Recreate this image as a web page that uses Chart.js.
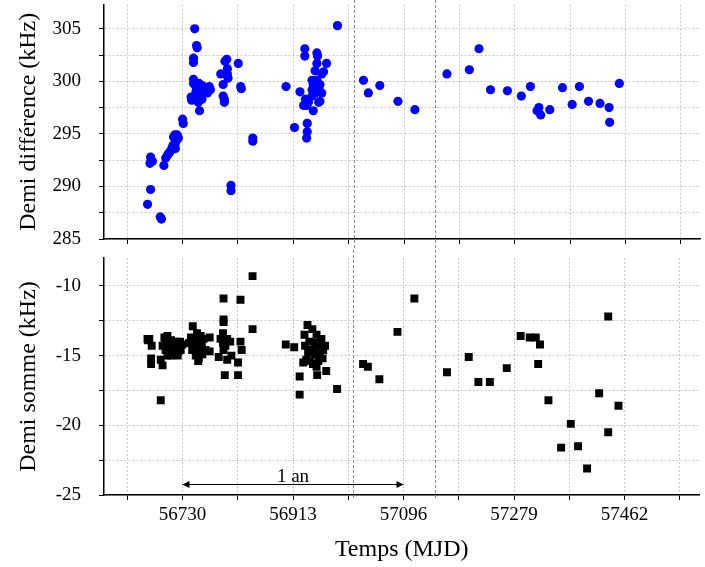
<!DOCTYPE html>
<html>
<head>
<meta charset="utf-8">
<script src="https://cdn.jsdelivr.net/npm/chart.js@4"></script>
<style>
  body { margin: 0; background: #fff; }
  #wrap { position: relative; width: 705px; height: 567px; }
  #wrap canvas { position: absolute; left: 0; }
</style>
</head>
<body>
<div id="wrap">
  <canvas id="top-chart" width="705" height="250" style="top:0;width:705px;height:250px"></canvas>
  <canvas id="bottom-chart" width="705" height="317" style="top:250px;width:705px;height:317px"></canvas>
</div>
<script>
// time axis (MJD)
const xMin = 56600
const xMax = 57586
const xLabelTicks = [56730, 56913, 57096, 57279, 57462]
const xMinorTicks = [56638.5, 56821.5, 57004.5, 57187.5, 57370.5, 57553.5]
const markerDays = [57013, 57148]
const yearArrow = [56730, 57096]
const yearArrowLevel = -24.2

// half difference (kHz), blue circles
const diffDays = [
  56672, 56677, 56693, 56695, 56677, 56678, 56676, 56680, 56699, 56702,
  56705, 56707, 56709, 56712, 56714, 56718, 56720, 56717, 56721, 56723,
  56718, 56715, 56730, 56731, 56750, 56753, 56754, 56748, 56748, 56748,
  56748, 56744, 56745, 56758, 56752, 56757, 56762, 56768, 56757, 56760,
  56754, 56762, 56766, 56774, 56776, 56771, 56752, 56757, 56762, 56750,
  56756, 56793, 56800, 56803, 56804, 56805, 56804, 56797, 56797, 56799,
  56799, 56822, 56826, 56827, 56846, 56846, 56810, 56810, 56901, 56915,
  56924, 56932, 56932, 56936, 56936, 56935, 56952, 56953, 56968, 56986,
  56933, 56930, 56938, 56944, 56949, 56955, 56960, 56957, 56946, 56952,
  56949, 56952, 56960, 56963, 56944, 56946, 56955, 56935, 56944, 56957,
  57029, 57037, 57056, 57086, 57114, 57167, 57204, 57220, 57239, 57267,
  57290, 57305, 57319, 57316, 57322, 57337, 57358, 57374, 57386, 57401,
  57420, 57435, 57436, 57452
]
const diffValues = [
  288.3, 289.7, 287.1, 286.9, 292.8, 292.5, 292.2, 292.4, 292.0, 292.7,
  293.0, 293.1, 293.3, 293.6, 293.9, 294.1, 294.4, 294.9, 294.9, 294.6,
  293.6, 294.7, 296.4, 296.0, 305.0, 303.4, 303.2, 302.2, 301.8, 300.2,
  299.8, 298.5, 298.2, 297.2, 299.5, 299.8, 299.6, 299.4, 298.9, 298.5,
  298.6, 298.3, 299.1, 299.5, 299.2, 298.9, 299.0, 299.2, 298.8, 298.3,
  298.0, 300.7, 301.9, 302.1, 301.2, 300.3, 300.7, 299.7, 298.6, 298.3,
  298.0, 301.7, 299.5, 299.3, 294.6, 294.3, 290.1, 289.6, 299.5, 295.6,
  299.0, 303.1, 302.4, 296.0, 295.2, 294.6, 302.7, 302.4, 301.7, 305.3,
  298.3, 297.7, 298.0, 298.6, 298.9, 299.4, 298.9, 298.1, 297.2, 300.1,
  301.0, 301.7, 300.7, 300.9, 300.1, 299.7, 298.0, 297.7, 299.2, 299.7,
  300.1, 298.9, 299.6, 298.1, 297.3, 300.7, 301.1, 303.1, 299.2, 299.1,
  298.6, 299.5, 297.5, 297.2, 296.8, 297.3, 299.4, 297.8, 299.5, 298.1,
  297.9, 297.5, 296.1, 299.8
]

// half sum (kHz), black squares
const sumDays = [
  56672, 56675, 56679, 56678, 56678, 56673, 56694, 56694, 56697,
  56700, 56705, 56711, 56708, 56702, 56713, 56719, 56724, 56716, 56711,
  56722, 56705, 56727, 56730, 56697, 56702, 56719, 56723, 56709, 56715, 56726,
  56747, 56754, 56744, 56749, 56757, 56752, 56760, 56746, 56754, 56763,
  56757, 56756, 56768, 56775, 56775, 56765, 56760, 56741, 56752, 56749, 56762,
  56798, 56826, 56846, 56846, 56798, 56798, 56797, 56793, 56797, 56801,
  56809, 56804, 56790, 56804, 56811, 56798, 56826, 56828, 56822, 56800, 56822,
  56901, 56915, 56924, 56924, 56937, 56945, 56952, 56932, 56933, 56935,
  56930, 56938, 56944, 56949, 56955, 56957, 56963, 56966, 56960, 56946,
  56952, 56953, 56968, 56941, 56955, 56940, 56950, 56958, 56962, 56986,
  57029, 57037, 57056, 57086, 57114, 57168, 57204, 57220, 57239, 57267,
  57290, 57305, 57315, 57322, 57319, 57336, 57357, 57373, 57385, 57400,
  57420, 57435, 57435, 57452
]
const sumValues = [
  -13.8, -13.8, -14.3, -15.2, -15.6, -13.9, -18.2, -15.3, -15.7,
  -13.7, -13.6, -13.9, -14.3, -14.6, -14.2, -14.4, -14.3, -14.8, -15.0,
  -15.0, -15.0, -14.6, -14.2, -14.3, -14.0, -14.0, -14.7, -14.6, -14.3, -14.0,
  -12.9, -13.4, -13.7, -13.8, -14.1, -14.3, -14.4, -14.6, -14.8, -14.9,
  -15.2, -15.4, -14.6, -13.7, -14.7, -13.8, -13.6, -14.1, -15.0, -14.5, -14.1,
  -10.9, -11.0, -9.3, -13.1, -12.4, -12.6, -13.4, -13.8, -14.1, -14.3,
  -14.0, -13.8, -15.1, -15.3, -15.0, -14.6, -14.0, -14.6, -15.5, -16.4, -16.4,
  -14.2, -14.4, -16.5, -17.8, -12.8, -13.1, -13.5, -13.5, -14.3, -15.3,
  -15.5, -14.8, -14.6, -14.1, -14.4, -15.0, -14.6, -14.3, -13.8, -15.6,
  -15.8, -16.4, -16.1, -15.4, -15.4, -14.0, -14.9, -14.2, -15.2, -17.4,
  -15.6, -15.8, -16.7, -13.3, -10.9, -16.2, -15.1, -16.9, -16.9, -15.9,
  -13.6, -13.7, -13.7, -14.2, -15.6, -18.2, -21.6, -19.9, -21.5, -23.1,
  -17.7, -12.2, -20.5, -18.6
]

const serif = "'Liberation Serif', 'Times New Roman', serif"
const gridColor = '#c6c6c6'

Chart.defaults.font.family = serif
Chart.defaults.color = '#000000'

function toPoints(days, values) {
  return days.map((d, i) => ({ x: d, y: values[i] }))
}

function stepTicks(lo, hi, step) {
  const out = []
  for (let v = lo; v <= hi + 1e-9; v += step) out.push({ value: v })
  return out
}

// vertical dashed lines (same days on both panels)
const markerLinesPlugin = {
  id: 'markerLines',
  beforeDatasetsDraw(chart, args, opts) {
    const ctx = chart.ctx
    const x = chart.scales.x
    ctx.save()
    ctx.strokeStyle = '#8c8c8c'
    ctx.lineWidth = 1
    ctx.setLineDash([3, 2])
    markerDays.forEach(d => {
      const px = Math.round(x.getPixelForValue(d)) + 0.5
      ctx.beginPath()
      ctx.moveTo(px, opts.from)
      ctx.lineTo(px, opts.to === 'bottom' ? chart.height : chart.chartArea.bottom + opts.to)
      ctx.stroke()
    })
    ctx.restore()
  }
}

// "1 an" arrow on the lower panel
const yearArrowPlugin = {
  id: 'yearArrow',
  afterDatasetsDraw(chart) {
    const ctx = chart.ctx
    const x1 = chart.scales.x.getPixelForValue(yearArrow[0])
    const x2 = chart.scales.x.getPixelForValue(yearArrow[1])
    const y = Math.round(chart.scales.y.getPixelForValue(yearArrowLevel)) + 0.5
    ctx.save()
    ctx.strokeStyle = '#000'
    ctx.fillStyle = '#000'
    ctx.lineWidth = 1
    ctx.beginPath()
    ctx.moveTo(x1, y)
    ctx.lineTo(x2, y)
    ctx.stroke()
    ctx.beginPath()
    ctx.moveTo(x1, y); ctx.lineTo(x1 + 7, y - 3.5); ctx.lineTo(x1 + 7, y + 3.5); ctx.closePath()
    ctx.moveTo(x2, y); ctx.lineTo(x2 - 7, y - 3.5); ctx.lineTo(x2 - 7, y + 3.5); ctx.closePath()
    ctx.fill()
    ctx.font = '19px ' + serif
    ctx.textAlign = 'center'
    ctx.textBaseline = 'alphabetic'
    ctx.fillText('1 an', (x1 + x2) / 2, y - 3)
    ctx.restore()
  }
}

function makeChart(canvasId, cfg) {
  return new Chart(document.getElementById(canvasId), {
    type: 'scatter',
    data: {
      datasets: [{
        data: cfg.points,
        pointStyle: cfg.pointStyle,
        pointRadius: cfg.pointRadius,
        pointHoverRadius: cfg.pointRadius,
        backgroundColor: cfg.color,
        borderColor: cfg.color,
        borderWidth: 0
      }]
    },
    plugins: cfg.plugins,
    options: {
      responsive: false,
      animation: false,
      layout: { padding: { top: cfg.padTop, right: 0, bottom: 0, left: 0 } },
      plugins: {
        legend: { display: false },
        tooltip: { enabled: false },
        markerLines: cfg.markerOpts
      },
      scales: {
        x: {
          type: 'linear',
          min: xMin,
          max: xMax,
          afterBuildTicks: s => {
            s.ticks = xMinorTicks.concat(xLabelTicks).sort((a, b) => a - b).map(v => ({ value: v }))
          },
          afterFit: s => {
            s.height = cfg.xHeight
            s.paddingLeft = 0
            s.paddingRight = 0
          },
          grid: { color: gridColor, lineWidth: 1, tickLength: 5, tickColor: '#000', tickWidth: 1 },
          border: { color: '#000', width: 1.5, dash: [2, 2] },
          ticks: {
            display: cfg.showXLabels,
            color: '#000',
            padding: 4,
            maxRotation: 0,
            font: { family: serif, size: 19 },
            callback: v => xLabelTicks.includes(v) ? String(v) : ''
          },
          title: {
            display: cfg.showXLabels,
            text: 'Temps (MJD)',
            color: '#000',
            font: { family: serif, size: 24 },
            padding: { top: 0, bottom: 3 }
          }
        },
        y: {
          min: cfg.yMin,
          max: cfg.yMax,
          afterBuildTicks: s => { s.ticks = stepTicks(cfg.yMin, cfg.yMax, 2.5) },
          afterFit: s => {
            s.width = 104
            s.paddingTop = 0
            s.paddingBottom = 0
          },
          grid: { color: gridColor, lineWidth: 1, tickLength: 5, tickColor: '#000', tickWidth: 1 },
          border: { color: '#000', width: 1.5, dash: [2, 2] },
          ticks: {
            color: '#000',
            padding: 18,
            font: { family: serif, size: 19 },
            callback: v => Math.abs(v % 5) < 1e-9 ? String(v) : ''
          },
          title: {
            display: true,
            text: cfg.yTitle,
            color: '#000',
            font: { family: serif, size: 24 },
            padding: { top: 14, bottom: 0 }
          }
        }
      }
    }
  })
}

makeChart('top-chart', {
  points: toPoints(diffDays, diffValues),
  pointStyle: 'circle',
  pointRadius: 4.6,
  color: '#0000ff',
  padTop: 0,
  xHeight: 11,
  showXLabels: false,
  yMin: 285,
  yMax: 307.3,
  yTitle: 'Demi différence (kHz)',
  plugins: [markerLinesPlugin],
  markerOpts: { from: 0, to: 'bottom' }
})

makeChart('bottom-chart', {
  points: toPoints(sumDays, sumValues),
  pointStyle: 'rect',
  pointRadius: 5.6,
  color: '#000000',
  padTop: 8,
  xHeight: 72,
  showXLabels: true,
  yMin: -25,
  yMax: -8,
  yTitle: 'Demi somme (kHz)',
  plugins: [markerLinesPlugin, yearArrowPlugin],
  markerOpts: { from: 0, to: 4 }
})
</script>
</body>
</html>
